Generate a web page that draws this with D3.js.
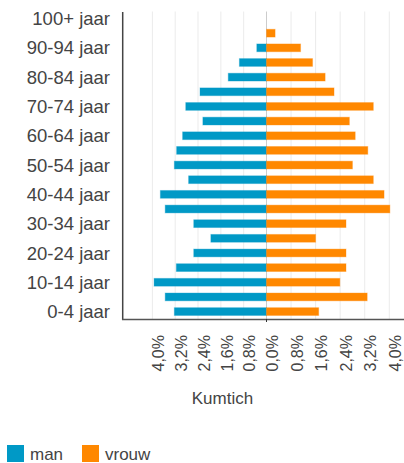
<!DOCTYPE html>
<html>
<head>
<meta charset="utf-8">
<script src="https://cdn.jsdelivr.net/npm/d3@7"></script>
<style>
  body { margin: 0; background: #fff; }
  text { font-family: "Liberation Sans", Arial, sans-serif; }
</style>
</head>
<body>
<div class="pyramid"></div>
<script>
// age groups, bottom to top
const ageGroups = ["0-4 jaar", "5-9 jaar", "10-14 jaar", "15-19 jaar", "20-24 jaar", "25-29 jaar",
  "30-34 jaar", "35-39 jaar", "40-44 jaar", "45-49 jaar", "50-54 jaar", "55-59 jaar", "60-64 jaar",
  "65-69 jaar", "70-74 jaar", "75-79 jaar", "80-84 jaar", "85-89 jaar", "90-94 jaar", "95-99 jaar", "100+ jaar"];

// share of population in %
const man = [3.23, 3.55, 3.94, 3.16, 2.55, 1.95, 2.55, 3.55, 3.72, 2.73, 3.23, 3.15, 2.94,
  2.23, 2.83, 2.33, 1.34, 0.95, 0.34, 0, 0];
const vrouw = [1.70, 3.28, 2.39, 2.59, 2.59, 1.60, 2.59, 4.02, 3.83, 3.48, 2.80, 3.30, 2.89,
  2.70, 3.48, 2.20, 1.91, 1.50, 1.11, 0.28, 0];

const xTicks = [-4.0, -3.2, -2.4, -1.6, -0.8, 0, 0.8, 1.6, 2.4, 3.2, 4.0];
const seriesNames = ["man", "vrouw"];
const xTitle = "Kumtich";

const width = 404;
const height = 463;
const colors = { man: "#0099c6", vrouw: "#ff8800" };

const svg = d3.select(".pyramid").append("svg")
  .attr("width", width)
  .attr("height", height);

// left and right halves are not equally wide in the original
const x = d3.scaleLinear()
  .domain([-5.04, 0, 4.48])
  .range([122.7, 266.5, 404]);

const y = d3.scaleBand()
  .domain(ageGroups.slice().reverse())
  .range([11.2, 318.9])
  .paddingInner(0.47)
  .paddingOuter(0.235);

const nl = d3.formatLocale({ decimal: ",", thousands: ".", grouping: [3], currency: ["€", ""] });
const fmt = v => nl.format(".1f")(Math.abs(v)) + "%";

// gridlines
svg.append("g")
  .selectAll("line")
  .data(xTicks)
  .enter().append("line")
  .attr("x1", d => x(d)).attr("x2", d => x(d))
  .attr("y1", 11.5).attr("y2", 319)
  .attr("stroke", d => d === 0 ? "#cccccc" : "#ebebeb")
  .attr("stroke-width", 1);

// bars
const rows = ageGroups.map((a, i) => ({ age: a, man: man[i], vrouw: vrouw[i] }));

svg.append("g")
  .selectAll("rect")
  .data(rows.filter(d => d.man > 0))
  .enter().append("rect")
  .attr("x", d => x(-d.man))
  .attr("y", d => y(d.age))
  .attr("width", d => x(0) - x(-d.man))
  .attr("height", y.bandwidth())
  .attr("fill", colors.man)
  .attr("stroke", colors.man)
  .attr("stroke-opacity", 0.35)
  .attr("stroke-width", 1);

svg.append("g")
  .selectAll("rect")
  .data(rows.filter(d => d.vrouw > 0))
  .enter().append("rect")
  .attr("x", x(0))
  .attr("y", d => y(d.age))
  .attr("width", d => x(d.vrouw) - x(0))
  .attr("height", y.bandwidth())
  .attr("fill", colors.vrouw)
  .attr("stroke", colors.vrouw)
  .attr("stroke-opacity", 0.35)
  .attr("stroke-width", 1);

// y axis labels, every other age group
svg.append("g")
  .selectAll("text")
  .data(ageGroups.filter((d, i) => i % 2 === 0))
  .enter().append("text")
  .attr("x", 110)
  .attr("y", d => y(d) + y.bandwidth() / 2)
  .attr("dy", "0.36em")
  .attr("text-anchor", "end")
  .style("font-size", "18.5px")
  .style("fill", "#444")
  .text(d => d);

// axis lines
svg.append("line")
  .attr("x1", 122.7).attr("x2", 122.7)
  .attr("y1", 12).attr("y2", 320)
  .attr("stroke", "#444").attr("stroke-width", 1.5);

svg.append("line")
  .attr("x1", 122).attr("x2", width)
  .attr("y1", 319.5).attr("y2", 319.5)
  .attr("stroke", "#555").attr("stroke-width", 1.3);

svg.append("line")
  .attr("x1", x(0)).attr("x2", x(0))
  .attr("y1", 319).attr("y2", 322)
  .attr("stroke", "#333").attr("stroke-width", 1);

// x tick labels, rotated
svg.append("g")
  .selectAll("text")
  .data(xTicks)
  .enter().append("text")
  .attr("transform", d => `translate(${x(d) + 6},335) rotate(-90)`)
  .attr("dy", "0.36em")
  .attr("text-anchor", "end")
  .style("font-size", "16px")
  .style("fill", "#444")
  .text(d => fmt(d));

// axis title
svg.append("text")
  .attr("x", 222.5)
  .attr("y", 404)
  .attr("text-anchor", "middle")
  .style("font-size", "17px")
  .style("fill", "#444")
  .text(xTitle);

// legend
const legend = svg.append("g")
  .selectAll("g")
  .data(seriesNames)
  .enter().append("g")
  .attr("transform", (d, i) => `translate(${[7, 82][i]},445)`);

legend.append("rect")
  .attr("width", 17).attr("height", 17)
  .attr("fill", d => colors[d]);

legend.append("text")
  .attr("x", 23)
  .attr("y", 14.5)
  .style("font-size", "17px")
  .style("fill", "#444")
  .text(d => d);
</script>
</body>
</html>
